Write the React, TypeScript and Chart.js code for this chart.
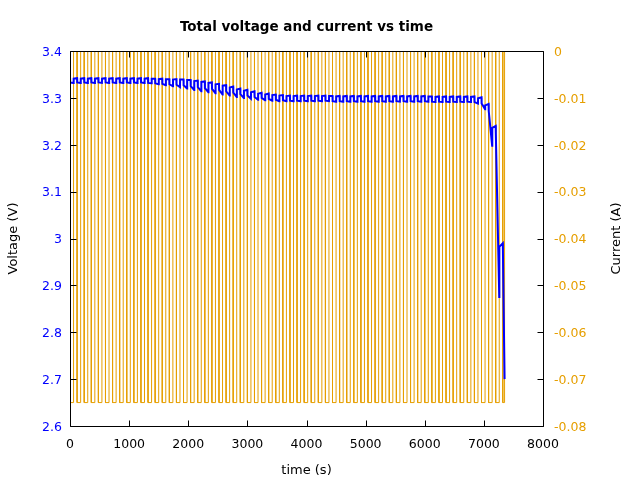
import { useEffect, useRef } from "react";
import { Chart, registerables } from "chart.js";

Chart.register(...registerables);

const chartTitle = "Total voltage and current vs time";
const timeTicks = [0, 1000, 2000, 3000, 4000, 5000, 6000, 7000, 8000];
const voltageTicks = [2.6, 2.7, 2.8, 2.9, 3, 3.1, 3.2, 3.3, 3.4];
const currentTicks = [-0.08, -0.07, -0.06, -0.05, -0.04, -0.03, -0.02, -0.01, 0];

// discharge pulse start / end times (s)
const pulseOn = [
  0, 120, 240, 360, 480, 600, 720, 840, 960, 1080, 1200, 1320, 1440, 1560, 1680, 1800,
  1920, 2040, 2160, 2280, 2400, 2520, 2640, 2760, 2880, 3000, 3120, 3240, 3360, 3480,
  3600, 3720, 3840, 3960, 4080, 4200, 4320, 4440, 4560, 4680, 4800, 4920, 5040, 5160,
  5280, 5400, 5520, 5640, 5760, 5880, 6000, 6120, 6240, 6360, 6480, 6600, 6720, 6840,
  6960, 7080, 7200, 7320,
];
const pulseOff = [
  60, 180, 300, 420, 540, 660, 780, 900, 1020, 1140, 1260, 1380, 1500, 1620, 1740, 1860,
  1980, 2100, 2220, 2340, 2460, 2580, 2700, 2820, 2940, 3060, 3180, 3300, 3420, 3540,
  3660, 3780, 3900, 4020, 4140, 4260, 4380, 4500, 4620, 4740, 4860, 4980, 5100, 5220,
  5340, 5460, 5580, 5700, 5820, 5940, 6060, 6180, 6300, 6420, 6540, 6660, 6780, 6900,
  7020, 7140, 7260, 7350,
];
const pulseCurrent = -0.075;

// voltage at pulse start (end of rest)
const restVoltage = [
  3.342, 3.342, 3.342, 3.342, 3.342, 3.342, 3.342, 3.342, 3.342, 3.342, 3.342,
  3.342, 3.341, 3.341, 3.34, 3.34, 3.339, 3.338, 3.337, 3.335, 3.333, 3.33,
  3.327, 3.324, 3.32, 3.317, 3.314, 3.311, 3.309, 3.307, 3.306,
  3.305, 3.305, 3.305, 3.305, 3.305, 3.305, 3.304, 3.304, 3.304, 3.304, 3.304, 3.304, 3.304,
  3.304, 3.304, 3.304, 3.304, 3.304, 3.304, 3.304, 3.303, 3.303, 3.303, 3.303, 3.303, 3.303,
  3.303, 3.301, 3.287, 3.24, 2.99,
];
// voltage just after the load is applied
const stepVoltage = [
  3.333, 3.333, 3.333, 3.333, 3.333, 3.333, 3.333, 3.333, 3.333, 3.333, 3.333,
  3.332, 3.331, 3.33, 3.329, 3.328, 3.327, 3.325, 3.323, 3.321, 3.319, 3.317,
  3.314, 3.311, 3.308, 3.305, 3.302, 3.3, 3.298, 3.296, 3.295,
  3.294, 3.294, 3.294, 3.294, 3.294, 3.294, 3.293, 3.293, 3.293, 3.293, 3.293, 3.293, 3.293,
  3.293, 3.293, 3.293, 3.293, 3.293, 3.293, 3.293, 3.292, 3.292, 3.292, 3.292, 3.292, 3.292,
  3.291, 3.288, 3.272, 3.225, 2.975,
];
// voltage at end of load
const loadVoltage = [
  3.332, 3.332, 3.332, 3.332, 3.332, 3.332, 3.332, 3.332, 3.332, 3.332, 3.332,
  3.331, 3.329, 3.327, 3.325, 3.323, 3.32, 3.317, 3.314, 3.312, 3.31, 3.307,
  3.305, 3.302, 3.3, 3.298, 3.296, 3.295, 3.294, 3.293, 3.293,
  3.293, 3.293, 3.293, 3.293, 3.293, 3.293, 3.292, 3.292, 3.292, 3.292, 3.292, 3.292, 3.292,
  3.292, 3.292, 3.292, 3.292, 3.292, 3.292, 3.292, 3.291, 3.291, 3.291, 3.291, 3.291, 3.291,
  3.288, 3.276, 3.198, 2.875, 2.7,
];
// voltage just after the load is removed
const recoverVoltage = [
  3.341, 3.341, 3.341, 3.341, 3.341, 3.341, 3.341, 3.341, 3.341, 3.341, 3.341,
  3.341, 3.34, 3.34, 3.339, 3.339, 3.338, 3.336, 3.334, 3.332, 3.329, 3.326,
  3.322, 3.318, 3.315, 3.312, 3.309, 3.307, 3.306, 3.305, 3.304,
  3.304, 3.304, 3.304, 3.304, 3.304, 3.304, 3.303, 3.303, 3.303, 3.303, 3.303, 3.303, 3.303,
  3.303, 3.303, 3.303, 3.303, 3.303, 3.303, 3.303, 3.302, 3.302, 3.302, 3.302, 3.302, 3.302,
  3.299, 3.284, 3.236, 2.982,
];

const BLUE = "#0000ff";
const ORANGE = "#e69f00";
const FONT = "DejaVu Sans";

function buildCurrent() {
  const pts: { x: number; y: number }[] = [];
  pulseOn.forEach((on, i) => {
    pts.push({ x: on, y: 0 }, { x: on, y: pulseCurrent }, { x: pulseOff[i], y: pulseCurrent }, { x: pulseOff[i], y: 0 });
  });
  return pts;
}

function buildVoltage() {
  const pts: { x: number; y: number }[] = [];
  pulseOn.forEach((on, i) => {
    pts.push({ x: on, y: restVoltage[i] });
    pts.push({ x: on + 2, y: stepVoltage[i] });
    pts.push({ x: pulseOff[i], y: loadVoltage[i] });
    if (i < recoverVoltage.length) pts.push({ x: pulseOff[i] + 2, y: recoverVoltage[i] });
  });
  return pts;
}

const framePlugin = {
  id: "frame",
  afterDatasetsDraw(chart: any) {
    const { ctx, chartArea: a, scales } = chart;
    const L = Math.round(a.left) + 0.5;
    const R = Math.round(a.right) + 0.5;
    const T = Math.round(a.top) + 0.5;
    const B = Math.round(a.bottom) + 0.5;
    const len = 6;
    ctx.save();
    ctx.strokeStyle = "#000";
    ctx.lineWidth = 1;
    ctx.beginPath();
    ctx.rect(L, T, R - L, B - T);
    timeTicks.forEach((v) => {
      const px = Math.round(scales.x.getPixelForValue(v)) + 0.5;
      ctx.moveTo(px, B);
      ctx.lineTo(px, B - len);
      ctx.moveTo(px, T);
      ctx.lineTo(px, T + len);
    });
    voltageTicks.forEach((v) => {
      const py = Math.round(scales.y.getPixelForValue(v)) + 0.5;
      ctx.moveTo(L, py);
      ctx.lineTo(L + len, py);
    });
    currentTicks.forEach((v) => {
      const py = Math.round(scales.y1.getPixelForValue(v)) + 0.5;
      ctx.moveTo(R, py);
      ctx.lineTo(R - len, py);
    });
    ctx.stroke();
    ctx.restore();
  },
  afterDraw(chart: any) {
    const { ctx, chartArea: a } = chart;
    ctx.save();
    ctx.fillStyle = "#000";
    ctx.textAlign = "center";
    ctx.textBaseline = "middle";
    ctx.font = `bold 13.5px "${FONT}"`;
    ctx.fillText(chartTitle, (a.left + a.right) / 2, 27);
    ctx.font = `13px "${FONT}"`;
    ctx.translate(617, (a.top + a.bottom) / 2);
    ctx.rotate(-Math.PI / 2);
    ctx.fillText("Current (A)", 0, 0);
    ctx.restore();
  },
};

export default function App() {
  const ref = useRef<HTMLCanvasElement>(null);
  useEffect(() => {
    Chart.defaults.font.family = FONT;
    const chart = new Chart(ref.current as HTMLCanvasElement, {
      type: "line",
      data: {
        datasets: [
          {
            label: "Voltage",
            data: buildVoltage(),
            yAxisID: "y",
            borderColor: BLUE,
            borderWidth: 2,
            pointRadius: 0,
            tension: 0,
            fill: false,
          },
          {
            label: "Current",
            data: buildCurrent(),
            yAxisID: "y1",
            borderColor: ORANGE,
            borderWidth: 1,
            pointRadius: 0,
            tension: 0,
            fill: false,
          },
        ],
      },
      options: {
        responsive: false,
        animation: false,
        devicePixelRatio: 1,
        layout: { padding: { top: 51, left: 0, right: 0, bottom: 0 } },
        plugins: {
          legend: { display: false },
          tooltip: { enabled: false },
          title: { display: false },
        },
        scales: {
          x: {
            type: "linear",
            min: 0,
            max: 8000,
            afterBuildTicks: (s: any) => {
              s.ticks = timeTicks.map((value) => ({ value }));
            },
            afterFit: (s: any) => {
              s.height = 54;
            },
            grid: { display: false, drawTicks: false },
            border: { display: false },
            ticks: {
              color: "#000",
              font: { size: 12.5, family: FONT },
              padding: 11,
              maxRotation: 0,
              autoSkip: false,
              callback: (v: any) => String(v),
            },
            title: {
              display: true,
              text: "time (s)",
              color: "#000",
              font: { size: 13, family: FONT },
              padding: { top: 0, bottom: 2 },
            },
          },
          y: {
            type: "linear",
            position: "left",
            min: 2.6,
            max: 3.4,
            afterBuildTicks: (s: any) => {
              s.ticks = voltageTicks.map((value) => ({ value }));
            },
            afterFit: (s: any) => {
              s.width = 70;
            },
            grid: { display: false, drawTicks: false },
            border: { display: false },
            ticks: {
              color: BLUE,
              font: { size: 12.5, family: FONT },
              padding: 8,
              labelOffset: 1.5,
              autoSkip: false,
              callback: (v: any) => String(v),
            },
            title: {
              display: true,
              text: "Voltage (V)",
              color: "#000",
              font: { size: 13, family: FONT },
              padding: { top: 6, bottom: 0 },
            },
          },
          y1: {
            type: "linear",
            position: "right",
            min: -0.08,
            max: 0,
            afterBuildTicks: (s: any) => {
              s.ticks = currentTicks.map((value) => ({ value }));
            },
            afterFit: (s: any) => {
              s.width = 97;
            },
            grid: { display: false, drawTicks: false },
            border: { display: false },
            ticks: {
              color: ORANGE,
              font: { size: 12.5, family: FONT },
              padding: 11,
              labelOffset: 1.5,
              autoSkip: false,
              callback: (v: any) => String(v),
            },
            title: { display: false },
          },
        },
      },
      plugins: [framePlugin],
    } as any);
    return () => chart.destroy();
  }, []);
  return (
    <div style={{ position: "absolute", left: 0, top: 0, width: 640, height: 480 }}>
      <canvas ref={ref} width={640} height={480} style={{ display: "block", width: 640, height: 480 }} />
    </div>
  );
}
